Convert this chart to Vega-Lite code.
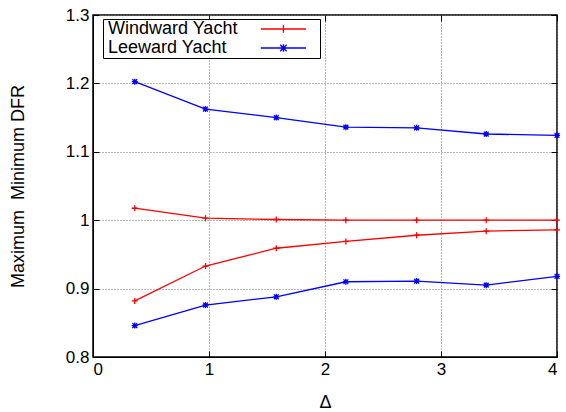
{
  "$schema": "https://vega.github.io/schema/vega-lite/v6.json",
  "width": 464,
  "height": 342,
  "autosize": "none",
  "padding": {"left": 93, "top": 15, "right": 9, "bottom": 55},
  "background": "white",
  "config": {
    "font": "Liberation Sans",
    "view": {"stroke": "black", "strokeWidth": 1.5},
    "axis": {
      "domainColor": "black",
      "tickColor": "black",
      "gridColor": "#777777",
      "gridDash": [1, 2],
      "gridWidth": 1,
      "labelFont": "Liberation Sans",
      "labelFontSize": 17,
      "labelColor": "black",
      "titleFont": "Liberation Sans",
      "titleFontSize": 18,
      "titleFontWeight": "normal",
      "titleColor": "black",
      "tickSize": -6
    }
  },
  "resolve": {"axis": {"x": "independent", "y": "independent"}},
  "data": {
    "values": [
      {"series": "Windward Yacht", "bound": "max", "x": 0.36, "y": 1.0175},
      {"series": "Windward Yacht", "bound": "max", "x": 0.97, "y": 1.003},
      {"series": "Windward Yacht", "bound": "max", "x": 1.58, "y": 1.001},
      {"series": "Windward Yacht", "bound": "max", "x": 2.18, "y": 1.0},
      {"series": "Windward Yacht", "bound": "max", "x": 2.79, "y": 1.0},
      {"series": "Windward Yacht", "bound": "max", "x": 3.39, "y": 1.0},
      {"series": "Windward Yacht", "bound": "max", "x": 4.0, "y": 1.0},
      {"series": "Windward Yacht", "bound": "min", "x": 0.36, "y": 0.882},
      {"series": "Windward Yacht", "bound": "min", "x": 0.97, "y": 0.933},
      {"series": "Windward Yacht", "bound": "min", "x": 1.58, "y": 0.959},
      {"series": "Windward Yacht", "bound": "min", "x": 2.18, "y": 0.969},
      {"series": "Windward Yacht", "bound": "min", "x": 2.79, "y": 0.978},
      {"series": "Windward Yacht", "bound": "min", "x": 3.39, "y": 0.984},
      {"series": "Windward Yacht", "bound": "min", "x": 4.0, "y": 0.986},
      {"series": "Leeward Yacht", "bound": "max", "x": 0.36, "y": 1.2025},
      {"series": "Leeward Yacht", "bound": "max", "x": 0.97, "y": 1.1625},
      {"series": "Leeward Yacht", "bound": "max", "x": 1.58, "y": 1.15},
      {"series": "Leeward Yacht", "bound": "max", "x": 2.18, "y": 1.136},
      {"series": "Leeward Yacht", "bound": "max", "x": 2.79, "y": 1.135},
      {"series": "Leeward Yacht", "bound": "max", "x": 3.39, "y": 1.126},
      {"series": "Leeward Yacht", "bound": "max", "x": 4.0, "y": 1.124},
      {"series": "Leeward Yacht", "bound": "min", "x": 0.36, "y": 0.846},
      {"series": "Leeward Yacht", "bound": "min", "x": 0.97, "y": 0.876},
      {"series": "Leeward Yacht", "bound": "min", "x": 1.58, "y": 0.888},
      {"series": "Leeward Yacht", "bound": "min", "x": 2.18, "y": 0.91},
      {"series": "Leeward Yacht", "bound": "min", "x": 2.79, "y": 0.911},
      {"series": "Leeward Yacht", "bound": "min", "x": 3.39, "y": 0.905},
      {"series": "Leeward Yacht", "bound": "min", "x": 4.0, "y": 0.918}
    ]
  },
  "layer": [
    {
      "mark": {"type": "line", "strokeWidth": 1.3},
      "encoding": {
        "x": {
          "field": "x",
          "type": "quantitative",
          "scale": {"domain": [0, 4], "nice": false, "zero": false},
          "axis": {"title": "Δ", "values": [0, 1, 2, 3, 4], "labelPadding": 10, "titlePadding": 16, "format": "~g"}
        },
        "y": {
          "field": "y",
          "type": "quantitative",
          "scale": {"domain": [0.8, 1.3], "nice": false, "zero": false},
          "axis": {"title": "Maximum\u00a0\u00a0Minimum DFR", "values": [0.8, 0.9, 1.0, 1.1, 1.2, 1.3], "format": "~g", "labelPadding": 10, "titlePadding": 38}
        },
        "color": {
          "field": "series",
          "type": "nominal",
          "sort": ["Windward Yacht", "Leeward Yacht"],
          "scale": {"domain": ["Windward Yacht", "Leeward Yacht"], "range": ["#ff0000", "#0000ff"]},
          "legend": {
            "title": null,
            "orient": "none",
            "legendX": 10,
            "legendY": 4,
            "strokeColor": "black",
            "fillColor": "white",
            "padding": 1,
            "labelFont": "Liberation Sans",
            "labelFontSize": 18,
            "labelColor": "black",
            "labelAlign": "left",
            "labelOffset": -14,
            "symbolOffset": 0,
            "symbolSize": 16,
            "symbolStrokeWidth": 1.3,
            "rowPadding": 1,
            "symbolType": "M73.9,0H96.5M85.2,-1.85V1.85M101.7,0",
            "encode": {
              "symbols": {
                "update": {
                  "shape": {"signal": "datum.value === 'Windward Yacht' ? 'M73.9,0H96.5M85.2,-1.85V1.85M101.7,0' : 'M73.9,0H96.5M85.2,-1.85V1.85M83.6,-1.6L86.8,1.6M83.6,1.6L86.8,-1.6M101.7,0'"},
                  "fill": {"value": "transparent"}
                }
              }
            }
          }
        },
        "detail": {"field": "bound", "type": "nominal"}
      }
    },
    {
      "transform": [{"filter": "datum.series === 'Windward Yacht'"}],
      "mark": {"type": "point", "filled": false, "size": 36, "strokeWidth": 1.3, "opacity": 1, "shape": "M-1,0H1M0,-1V1"},
      "encoding": {
        "x": {"field": "x", "type": "quantitative", "axis": null},
        "y": {"field": "y", "type": "quantitative", "axis": null},
        "color": {"field": "series", "type": "nominal"}
      }
    },
    {
      "transform": [{"filter": "datum.series === 'Leeward Yacht'"}],
      "mark": {"type": "point", "filled": false, "size": 36, "strokeWidth": 1.3, "opacity": 1, "shape": "M-1,0H1M0,-1V1M-0.8,-0.8L0.8,0.8M-0.8,0.8L0.8,-0.8"},
      "encoding": {
        "x": {"field": "x", "type": "quantitative", "axis": null},
        "y": {"field": "y", "type": "quantitative", "axis": null},
        "color": {"field": "series", "type": "nominal"}
      }
    },
    {
      "mark": {"type": "point", "opacity": 0},
      "encoding": {
        "x": {"field": "x", "type": "quantitative", "axis": {"orient": "top", "values": [0, 1, 2, 3, 4], "labels": false, "title": null, "grid": false, "domain": false}},
        "y": {"field": "y", "type": "quantitative", "axis": {"orient": "right", "values": [0.8, 0.9, 1.0, 1.1, 1.2, 1.3], "labels": false, "title": null, "grid": false, "domain": false}}
      }
    }
  ]
}
